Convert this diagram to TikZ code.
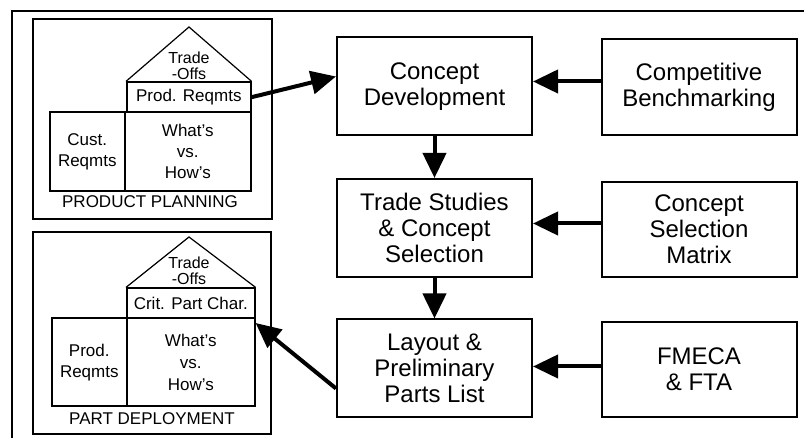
\documentclass[tikz,border=0pt]{standalone}
\usepackage{fontspec}
\setmainfont{Liberation Sans}
\usetikzlibrary{arrows.meta}

\tikzset{
    block/.style={draw, line width=1pt, align=center, inner sep=0pt,
        minimum width=97.5pt, minimum height=49pt, font=\fontsize{12}{13}\selectfont},
    cell/.style={draw, line width=0.8pt, align=center, inner sep=0pt,
        font=\fontsize{8.5}{10.5}\selectfont},
    roof/.style={line width=0.6pt},
    flow/.style={line width=2pt, -{Triangle[length=12.5pt,width=11.5pt]}},
}

\begin{document}
\begin{tikzpicture}[x=0.5pt,y=0.5pt]
    % Define the page and the size of one pixel
    \useasboundingbox (0,0) rectangle (804,438);
    \def\u{0.5pt}

    % Draw the outer frame
    \draw[line width=1pt] (12,0) -- (12,427) -- (804,427);

    % Draw the product planning house
    \draw[line width=0.8pt] (33,219) rectangle (272,419);
    \node[cell, anchor=south west, minimum width={124*\u}, minimum height={30*\u}] (prodreq) at (126,325) {Prod. Reqmts};
    \node[cell, anchor=south west, minimum width={75*\u}, minimum height={79*\u}] (custreq) at (49,246) {Cust.\\Reqmts};
    \node[cell, anchor=south west, minimum width={126*\u}, minimum height={79*\u}] (ppwhat) at (124,246) {What's\\vs.\\How's};
    \coordinate (pptop) at (189,411);
    \draw[roof] (prodreq.north west) -- (pptop) -- (prodreq.north east);
    \node[font=\fontsize{8}{8}\selectfont, align=center, inner sep=0pt] (pptrade) at (189,372) {Trade\\-Offs};
    \node[font=\fontsize{8.5}{10}\selectfont, inner sep=0pt] (pplabel) at (150,236) {PRODUCT PLANNING};

    % Draw the part deployment house
    \draw[line width=0.8pt] (33,4) rectangle (271,206);
    \node[cell, anchor=south west, minimum width={128*\u}, minimum height={30*\u}] (critpart) at (126,119) {Crit. Part Char.};
    \node[cell, anchor=south west, minimum width={75*\u}, minimum height={88*\u}] (pdreq) at (51,31) {Prod.\\Reqmts};
    \node[cell, anchor=south west, minimum width={128*\u}, minimum height={88*\u}, font=\fontsize{8.5}{11}\selectfont] (pdwhat) at (126,31) {What's\\vs.\\How's};
    \coordinate (pdtop) at (189,201);
    \draw[roof] (critpart.north west) -- (pdtop) -- (critpart.north east);
    \node[font=\fontsize{8}{8}\selectfont, align=center, inner sep=0pt] (pdtrade) at (189,167) {Trade\\-Offs};
    \node[font=\fontsize{8.5}{10}\selectfont, inner sep=0pt] (pdlabel) at (152,19) {PART DEPLOYMENT};

    % Draw the process blocks
    \node[block] (concept) at (434.5,351.5) {Concept\\Development};
    \node[block] (trade) at (434.5,210) {Trade Studies\\\& Concept\\Selection};
    \node[block] (layout) at (434.5,69.5) {Layout \&\\Preliminary\\Parts List};
    \node[block, minimum height=48pt] (bench) at (699,350.5) {Competitive\\Benchmarking};
    \node[block, minimum height=47.5pt] (matrix) at (699,208.5) {Concept\\Selection\\Matrix};
    \node[block, minimum height=47.5pt] (fmeca) at (699,68.5) {FMECA\\\& FTA};

    % Draw the arrows
    \draw[flow] (prodreq.east) -- ([yshift=5pt]concept.west);
    \draw[flow] ([yshift=3pt]bench.west) -- ([yshift=3pt]bench.west -| concept.east);
    \draw[flow] ([yshift=3pt]matrix.west) -- ([yshift=3pt]matrix.west -| trade.east);
    \draw[flow] ([yshift=1.5pt]fmeca.west) -- ([yshift=1.5pt]fmeca.west -| layout.east);
    \draw[flow] (concept.south) -- (trade.north);
    \draw[flow] (trade.south) -- (layout.north);
    \draw[flow] ([yshift=-10pt]layout.west) -- ([yshift=-2pt]critpart.south east);
\end{tikzpicture}
\end{document}
